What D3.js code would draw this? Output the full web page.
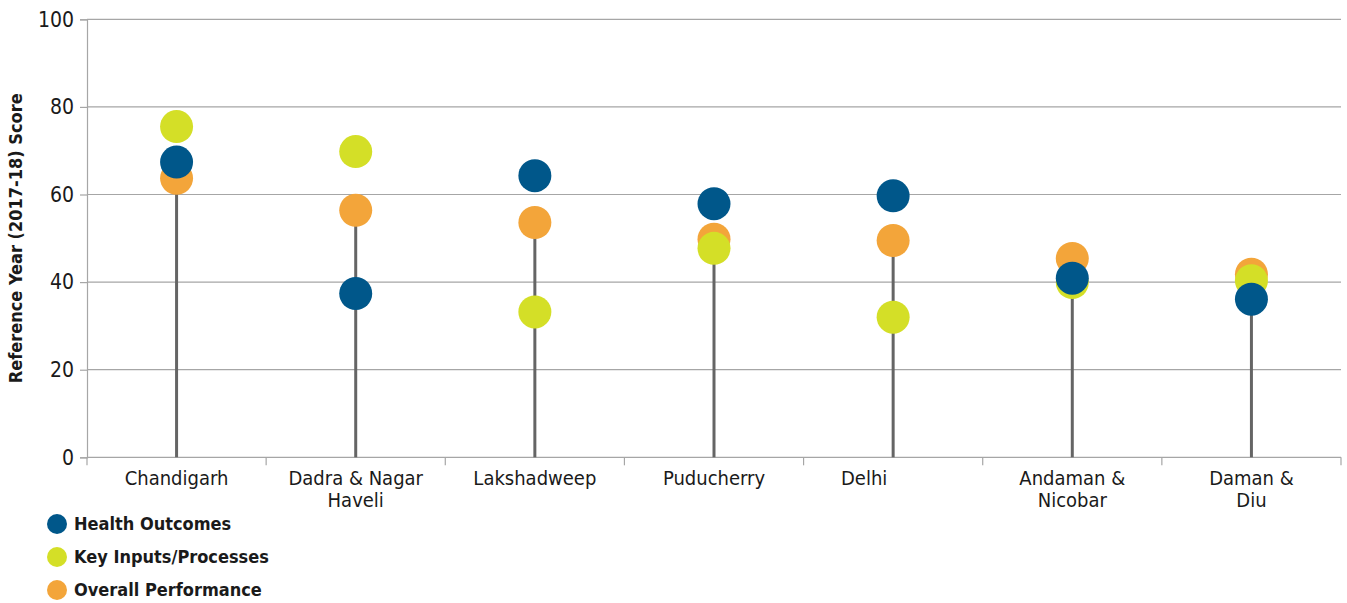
<!DOCTYPE html>
<html>
<head>
<meta charset="utf-8">
<script src="https://cdn.jsdelivr.net/npm/d3@7"></script>
<style>
  html, body { margin: 0; padding: 0; background: #fff; }
  svg { display: block; }
  text { font-family: "Liberation Sans Narrow", "DejaVu Sans Condensed", "Roboto", sans-serif; fill: #1a1a1a; }
</style>
</head>
<body>
<svg id="chart" width="1347" height="603"></svg>
<script>
const categories = ["Chandigarh", "Dadra & Nagar\nHaveli", "Lakshadweep", "Puducherry", "Delhi", "Andaman &\nNicobar", "Daman &\nDiu"];
const healthOutcomes = [67.4, 37.4, 64.3, 57.9, 59.7, 40.9, 36.1];
const keyInputs = [75.5, 69.8, 33.2, 47.7, 32.0, 39.9, 40.3];
const overallPerformance = [63.7, 56.4, 53.6, 49.8, 49.5, 45.4, 41.8];
const yTicks = [0, 20, 40, 60, 80, 100];
const seriesNames = ["Health Outcomes", "Key Inputs/Processes", "Overall Performance"];
const seriesColors = ["#00578a", "#d4df27", "#f3a53a"];

const svg = d3.select("#chart");
const margin = { left: 87, right: 6, top: 19.3, bottom: 145.7 };
const W = 1347, H = 603;

const x = d3.scaleBand().domain(d3.range(categories.length)).range([margin.left, W - margin.right]).padding(0);
const y = d3.scaleLinear().domain([0, 100]).range([H - margin.bottom, margin.top]);

const gridColor = "#a6a6a6";

// gridlines
svg.append("g").selectAll("line").data(yTicks.filter(d => d > 0)).join("line")
  .attr("x1", margin.left).attr("x2", W - margin.right)
  .attr("y1", d => y(d)).attr("y2", d => y(d))
  .attr("stroke", gridColor).attr("stroke-width", 1.2);

// y axis
const yAxis = svg.append("g").attr("transform", `translate(${margin.left},0)`)
  .call(d3.axisLeft(y).tickValues(yTicks).tickSize(7).tickPadding(6));
yAxis.select(".domain").attr("stroke", gridColor).attr("stroke-width", 1.2);
yAxis.selectAll(".tick line").attr("stroke", gridColor).attr("stroke-width", 1.2);
yAxis.selectAll(".tick text").attr("font-size", 21).attr("fill", "#1a1a1a")
  .style("font-family", "'Liberation Sans Narrow', 'DejaVu Sans Condensed', Roboto, sans-serif");

// x axis
const xAxisG = svg.append("g").attr("transform", `translate(0,${y(0)})`);
xAxisG.append("line").attr("x1", margin.left).attr("x2", W - margin.right)
  .attr("stroke", gridColor).attr("stroke-width", 1.2);
const bounds = d3.range(categories.length + 1).map(i => i < categories.length ? x(i) : x(categories.length - 1) + x.bandwidth());
xAxisG.selectAll("line.tk").data(bounds).join("line").attr("class", "tk")
  .attr("x1", d => d).attr("x2", d => d).attr("y1", 0).attr("y2", 8)
  .attr("stroke", gridColor).attr("stroke-width", 1.2);

const labelDx = { "Delhi": -29 };
const lbl = xAxisG.selectAll("text.cat").data(categories).join("text").attr("class", "cat")
  .attr("text-anchor", "middle").attr("font-size", 20)
  .attr("transform", (d, i) => `translate(${x(i) + x.bandwidth() / 2 + (labelDx[d] || 0)},28)`);
lbl.each(function(d) {
  const lines = d.split("\n");
  d3.select(this).selectAll("tspan").data(lines).join("tspan")
    .attr("x", 0).attr("dy", (l, j) => j === 0 ? 0 : 22).text(l => l);
});

// stems
const cx = i => x(i) + x.bandwidth() / 2;
svg.append("g").selectAll("line").data(overallPerformance).join("line")
  .attr("x1", (d, i) => cx(i)).attr("x2", (d, i) => cx(i))
  .attr("y1", y(0)).attr("y2", d => y(d))
  .attr("stroke", "#656565").attr("stroke-width", 3);

// dots: drawn Overall, Key, Health (Health on top)
const drawOrder = [[overallPerformance, 2], [keyInputs, 1], [healthOutcomes, 0]];
drawOrder.forEach(([vals, si]) => {
  svg.append("g").selectAll("circle").data(vals).join("circle")
    .attr("cx", (d, i) => cx(i)).attr("cy", d => y(d)).attr("r", 16.5)
    .attr("fill", seriesColors[si]);
});

// y axis title
svg.append("text")
  .attr("transform", `translate(22,${(y(0) + y(100)) / 2}) rotate(-90)`)
  .attr("text-anchor", "middle").attr("font-size", 18).attr("font-weight", "bold")
  .text("Reference Year (2017-18) Score");

// legend
const leg = svg.append("g").selectAll("g").data(seriesNames).join("g")
  .attr("transform", (d, i) => `translate(57,${524 + i * 33})`);
leg.append("circle").attr("r", 10).attr("fill", (d, i) => seriesColors[i]);
leg.append("text").attr("x", 17).attr("dy", "0.35em").attr("font-size", 18).attr("font-weight", "bold").text(d => d);
</script>
</body>
</html>
